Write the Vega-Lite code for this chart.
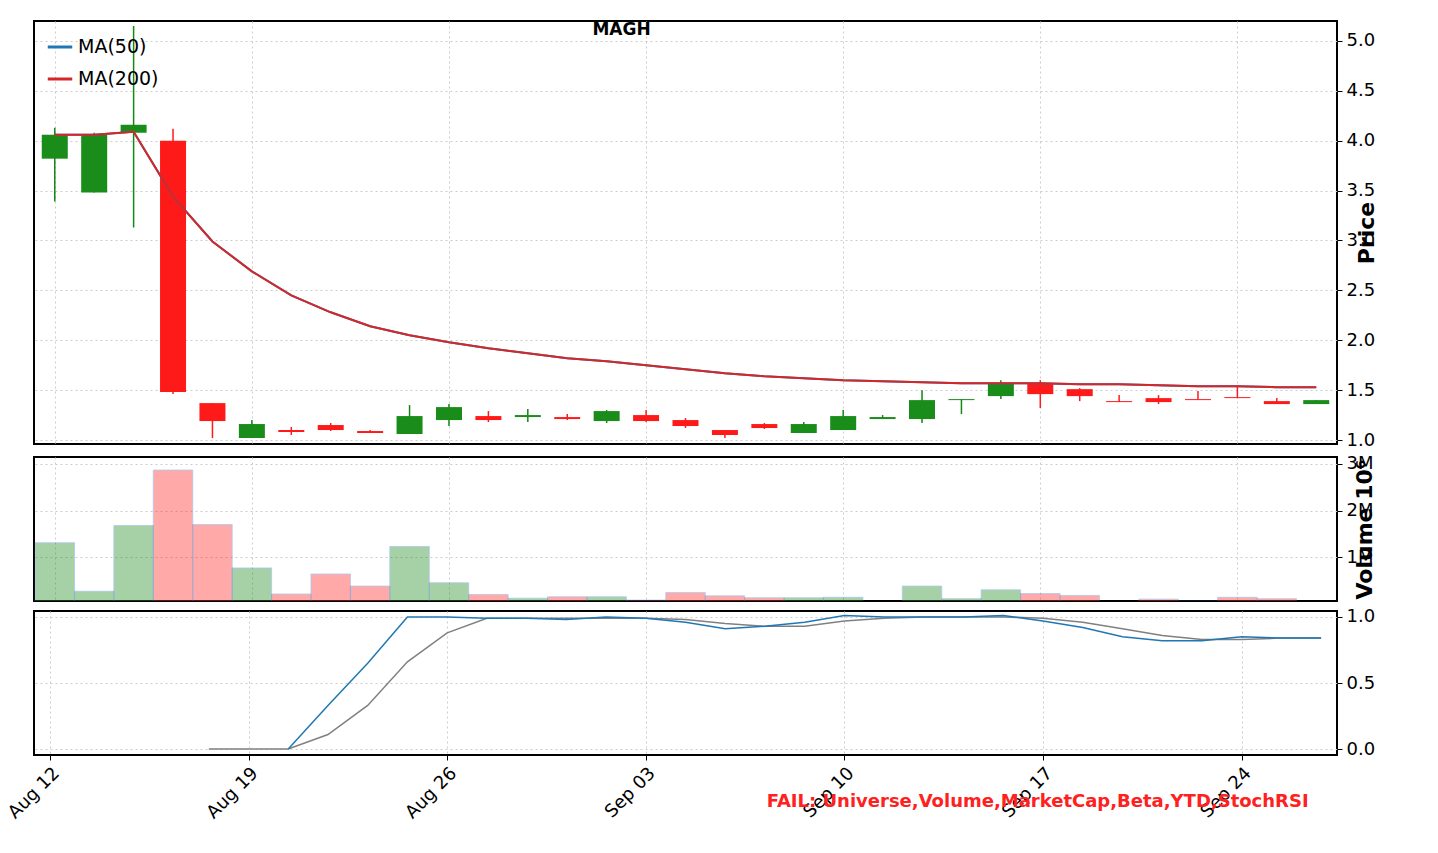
{
  "$schema": "https://vega.github.io/schema/vega-lite/v6.json",
  "background": "white",
  "padding": {"left": 3, "top": 20, "right": 10, "bottom": 5},
  "spacing": 2,
  "resolve": {"scale": {"color": "independent", "stroke": "independent", "fill": "independent", "strokeDash": "independent"}},
  "datasets": {
    "d": [
      {"i": 0, "o": 3.82, "c": 4.06, "h": 4.13, "l": 3.39, "vol": 1.31, "ma": 4.06, "k": null, "dk": null},
      {"i": 1, "o": 3.48, "c": 4.06, "h": 4.08, "l": 3.48, "vol": 0.27, "ma": 4.06, "k": null, "dk": null},
      {"i": 2, "o": 4.08, "c": 4.16, "h": 5.15, "l": 3.13, "vol": 1.68, "ma": 4.09, "k": null, "dk": null},
      {"i": 3, "o": 4.0, "c": 1.48, "h": 4.12, "l": 1.46, "vol": 2.87, "ma": 3.44, "k": null, "dk": null},
      {"i": 4, "o": 1.37, "c": 1.19, "h": 1.37, "l": 1.02, "vol": 1.7, "ma": 2.99, "k": null, "dk": 0},
      {"i": 5, "o": 1.02, "c": 1.16, "h": 1.2, "l": 1.02, "vol": 0.77, "ma": 2.69, "k": null, "dk": 0},
      {"i": 6, "o": 1.1, "c": 1.08, "h": 1.13, "l": 1.05, "vol": 0.21, "ma": 2.45, "k": 0, "dk": 0},
      {"i": 7, "o": 1.15, "c": 1.1, "h": 1.17, "l": 1.09, "vol": 0.64, "ma": 2.28, "k": 0.33, "dk": 0.11},
      {"i": 8, "o": 1.09, "c": 1.07, "h": 1.1, "l": 1.07, "vol": 0.38, "ma": 2.14, "k": 0.65, "dk": 0.33},
      {"i": 9, "o": 1.06, "c": 1.24, "h": 1.35, "l": 1.06, "vol": 1.23, "ma": 2.05, "k": 1.0, "dk": 0.66},
      {"i": 10, "o": 1.2, "c": 1.33, "h": 1.36, "l": 1.14, "vol": 0.45, "ma": 1.98, "k": 1.0, "dk": 0.88},
      {"i": 11, "o": 1.24, "c": 1.2, "h": 1.29, "l": 1.18, "vol": 0.2, "ma": 1.92, "k": 0.99, "dk": 0.99},
      {"i": 12, "o": 1.23, "c": 1.25, "h": 1.31, "l": 1.18, "vol": 0.12, "ma": 1.87, "k": 0.99, "dk": 0.99},
      {"i": 13, "o": 1.23, "c": 1.21, "h": 1.26, "l": 1.2, "vol": 0.15, "ma": 1.82, "k": 0.98, "dk": 0.99},
      {"i": 14, "o": 1.19, "c": 1.29, "h": 1.3, "l": 1.17, "vol": 0.15, "ma": 1.79, "k": 1.0, "dk": 0.99},
      {"i": 15, "o": 1.25, "c": 1.19, "h": 1.3, "l": 1.18, "vol": 0.08, "ma": 1.75, "k": 0.99, "dk": 0.99},
      {"i": 16, "o": 1.2, "c": 1.14, "h": 1.22, "l": 1.12, "vol": 0.24, "ma": 1.71, "k": 0.96, "dk": 0.98},
      {"i": 17, "o": 1.1, "c": 1.05, "h": 1.1, "l": 1.02, "vol": 0.17, "ma": 1.67, "k": 0.91, "dk": 0.95},
      {"i": 18, "o": 1.16, "c": 1.12, "h": 1.17, "l": 1.11, "vol": 0.13, "ma": 1.64, "k": 0.93, "dk": 0.93},
      {"i": 19, "o": 1.07, "c": 1.16, "h": 1.18, "l": 1.07, "vol": 0.13, "ma": 1.62, "k": 0.96, "dk": 0.93},
      {"i": 20, "o": 1.1, "c": 1.24, "h": 1.3, "l": 1.1, "vol": 0.14, "ma": 1.6, "k": 1.01, "dk": 0.97},
      {"i": 21, "o": 1.21, "c": 1.23, "h": 1.25, "l": 1.21, "vol": 0.03, "ma": 1.59, "k": 1.0, "dk": 0.99},
      {"i": 22, "o": 1.21, "c": 1.4, "h": 1.5, "l": 1.17, "vol": 0.38, "ma": 1.58, "k": 1.0, "dk": 1.0},
      {"i": 23, "o": 1.4, "c": 1.41, "h": 1.41, "l": 1.26, "vol": 0.11, "ma": 1.57, "k": 1.0, "dk": 1.0},
      {"i": 24, "o": 1.44, "c": 1.57, "h": 1.6, "l": 1.41, "vol": 0.3, "ma": 1.57, "k": 1.01, "dk": 1.0},
      {"i": 25, "o": 1.57, "c": 1.46, "h": 1.6, "l": 1.32, "vol": 0.22, "ma": 1.57, "k": 0.97, "dk": 0.99},
      {"i": 26, "o": 1.51, "c": 1.44, "h": 1.52, "l": 1.39, "vol": 0.18, "ma": 1.56, "k": 0.92, "dk": 0.96},
      {"i": 27, "o": 1.39, "c": 1.38, "h": 1.45, "l": 1.38, "vol": 0.03, "ma": 1.56, "k": 0.85, "dk": 0.91},
      {"i": 28, "o": 1.42, "c": 1.38, "h": 1.45, "l": 1.36, "vol": 0.1, "ma": 1.55, "k": 0.82, "dk": 0.86},
      {"i": 29, "o": 1.41, "c": 1.4, "h": 1.49, "l": 1.4, "vol": 0.06, "ma": 1.54, "k": 0.82, "dk": 0.83},
      {"i": 30, "o": 1.43, "c": 1.42, "h": 1.54, "l": 1.42, "vol": 0.14, "ma": 1.54, "k": 0.85, "dk": 0.83},
      {"i": 31, "o": 1.39, "c": 1.36, "h": 1.42, "l": 1.36, "vol": 0.11, "ma": 1.53, "k": 0.84, "dk": 0.84},
      {"i": 32, "o": 1.36, "c": 1.4, "h": 1.4, "l": 1.36, "vol": 0.03, "ma": 1.53, "k": 0.84, "dk": 0.84}
    ]
  },
  "data": {"name": "d"},
  "transform": [{"calculate": "datum.c >= datum.o ? 'up' : 'down'", "as": "dir"}],
  "title": {
    "text": "FAIL: Universe,Volume,MarketCap,Beta,YTD,StochRSI",
    "orient": "bottom", "anchor": "end", "color": "#ff2020", "fontSize": 18, "fontWeight": "bold", "offset": -30, "dx": -70
  },
  "vconcat": [
    {
      "width": 1303, "height": 423,
      "title": {"text": "MAGH", "fontSize": 17, "fontWeight": "bold", "offset": -18, "dx": -64},
      "resolve": {"scale": {"color": "independent", "stroke": "independent", "fill": "independent"}},
      "encoding": {
        "x": {"field": "i", "type": "quantitative", "scale": {"domain": [-0.4, 32.4], "nice": false, "zero": false},
          "axis": {"values": [0, 5, 10, 15, 20, 25, 30], "labels": false, "ticks": false, "title": null, "grid": true}}
      },
      "layer": [
        {
          "mark": {"type": "rule", "strokeWidth": 1.5},
          "encoding": {
            "y": {"field": "l", "type": "quantitative", "scale": {"domain": [0.96, 5.2], "nice": false, "zero": false},
              "axis": {"orient": "right", "values": [1, 1.5, 2, 2.5, 3, 3.5, 4, 4.5, 5], "format": ".1f", "title": "Price", "grid": true}},
            "y2": {"field": "h"},
            "color": {"field": "dir", "type": "nominal", "scale": {"domain": ["up", "down"], "range": ["#118811", "#ff1a1a"]}, "legend": null}
          }
        },
        {
          "mark": {"type": "bar", "size": 26, "strokeWidth": 1},
          "encoding": {
            "y": {"field": "o", "type": "quantitative"},
            "y2": {"field": "c"},
            "fill": {"field": "dir", "type": "nominal", "scale": {"domain": ["up", "down"], "range": ["#1a8c1a", "#ff1a1a"]}, "legend": null}
          }
        },
        {
          "transform": [
            {"calculate": "datum.ma", "as": "MA(50)"},
            {"calculate": "datum.ma", "as": "MA(200)"},
            {"fold": ["MA(50)", "MA(200)"], "as": ["series", "val"]}
          ],
          "mark": {"type": "line", "strokeWidth": 2},
          "encoding": {
            "y": {"field": "val", "type": "quantitative"},
            "stroke": {"field": "series", "type": "nominal", "scale": {"domain": ["MA(50)", "MA(200)"], "range": ["#1f77b4", "#d62728"]},
              "legend": {"orient": "top-left", "title": null, "symbolType": "stroke", "symbolStrokeWidth": 3, "symbolSize": 600, "labelFontSize": 19, "rowPadding": 8, "offset": 12}}
          }
        }
      ]
    },
    {
      "width": 1303, "height": 144,
      "mark": {"type": "bar", "size": 39.5, "opacity": 0.4, "clip": true, "stroke": "#3a7bd5", "strokeWidth": 0.8},
      "encoding": {
        "x": {"field": "i", "type": "quantitative", "scale": {"domain": [-0.4, 32.4], "nice": false, "zero": false},
          "axis": {"values": [0, 5, 10, 15, 20, 25, 30], "labels": false, "ticks": false, "title": null, "grid": true}},
        "y": {"field": "vol", "type": "quantitative", "scale": {"domain": [0.06, 3.15], "nice": false, "zero": false},
          "axis": {"orient": "right", "values": [1, 2, 3], "labelExpr": "datum.value + 'M'", "title": "Volume  10⁶", "grid": true}},
        "fill": {"field": "dir", "type": "nominal", "scale": {"domain": ["up", "down"], "range": ["#228b22", "#ff2a2a"]}, "legend": null}
      }
    },
    {
      "width": 1303, "height": 144,
      "transform": [{"fold": ["k", "dk"], "as": ["s", "v"]}, {"filter": "datum.v != null"}],
      "mark": {"type": "line", "strokeWidth": 1.5},
      "encoding": {
        "x": {"field": "i", "type": "quantitative", "scale": {"domain": [-0.4, 32.4], "nice": false, "zero": false},
          "axis": {"values": [0, 5, 10, 15, 20, 25, 30], "title": null, "grid": true, "labelAngle": -45, "labelAlign": "right", "labelBaseline": "top",
            "labelExpr": "['Aug 12','Aug 19','Aug 26','Sep 03','Sep 10','Sep 17','Sep 24'][datum.value / 5]"}},
        "y": {"field": "v", "type": "quantitative", "scale": {"domain": [-0.045, 1.045], "nice": false, "zero": false},
          "axis": {"orient": "right", "values": [0, 0.5, 1], "format": ".1f", "title": null, "grid": true}},
        "color": {"field": "s", "type": "nominal", "scale": {"domain": ["k", "dk"], "range": ["#1f77b4", "#808080"]}, "legend": null}
      }
    }
  ],
  "config": {
    "font": "DejaVu Sans",
    "view": {"stroke": "black", "strokeWidth": 2},
    "axis": {"labelFontSize": 18, "labelColor": "black", "titleFontSize": 22, "titleFontWeight": "bold", "titleColor": "black", "titleAngle": 270,
      "gridColor": "#cccccc", "gridDash": [2, 3], "domain": false, "tickColor": "black", "tickSize": 5, "labelPadding": 4},
    "legend": {"labelFont": "DejaVu Sans"}
  }
}
